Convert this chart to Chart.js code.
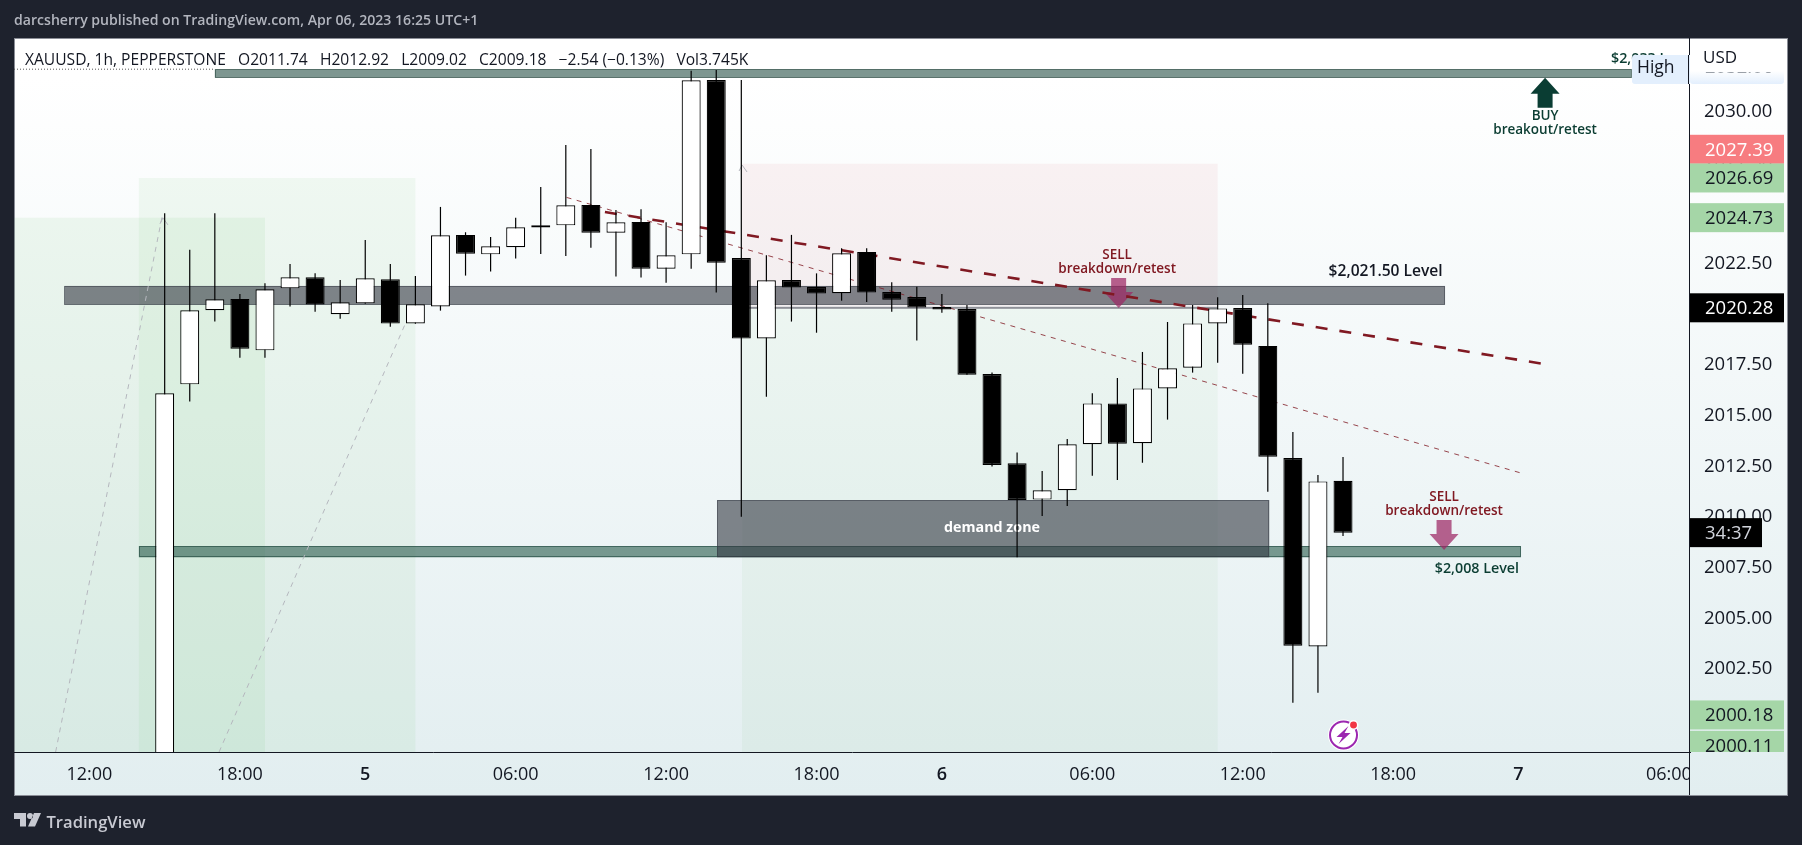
<!DOCTYPE html>
<html>
<head>
<meta charset="utf-8">
<title>XAUUSD 1h</title>
<script src="https://cdn.jsdelivr.net/npm/chart.js@4"></script>
<style>
    html, body { margin: 0; padding: 0; width: 1802px; height: 845px; overflow: hidden; background: #1e222d; }
    #card { position: absolute; left: 14px; top: 38px; width: 1774px; height: 758px; border: 1px solid #8a8d96; box-sizing: border-box;
        background: linear-gradient(180deg, #ffffff 0%, #ffffff 5%, #e2eef0 100%); }
    canvas { position: absolute; left: 0; top: 0; }
    .txt { position: absolute; white-space: pre; font-family: "Open Sans", sans-serif; }
    #head { left: 14px; top: 10px; font-size: 14.1px; font-weight: 600; color: #b2b5be; }
    #legend { left: 25px; top: 48px; font-size: 15.6px; color: #131722; }
    #logoText { left: 46.5px; top: 810px; font-size: 16.6px; font-weight: 600; color: #c8cad2; }
    #logo { position: absolute; left: 14px; top: 813px; }
</style>
</head>
<body>
<div id="card"></div>
<canvas id="chart" width="1802" height="845"></canvas>
<div class="txt" id="head">darcsherry published on TradingView.com, Apr 06, 2023 16:25 UTC+1</div>
<div class="txt" id="legend">XAUUSD, 1h, PEPPERSTONE   O2011.74   H2012.92   L2009.02   C2009.18   −2.54 (−0.13%)   Vol3.745K</div>
<svg id="logo" width="28" height="14" viewBox="0 0 28 14"><path d="M0 0h12v13.5H6V6H0z M13 3a3 3 0 1 0 6 0a3 3 0 1 0-6 0z M27 0L21 13.5h-7L20 0z" fill="#c8cad2"/></svg>
<div class="txt" id="logoText">TradingView</div>
<script>
// Свечи XAUUSD, 1h: индекс 0 это 12:00 первого дня
const firstCandle = 3;
const opens = [1995.00,2016.50,2020.16,2020.72,2018.18,2021.24,2021.79,2019.96,2020.50,2021.69,2019.51,2020.35,2023.88,2022.92,2023.27,2024.24,2024.35,2025.36,2023.99,2024.52,2022.21,2022.92,2031.53,2022.74,2018.77,2021.65,2021.31,2021.00,2023.04,2021.06,2020.81,2020.32,2020.22,2017.01,2012.60,2010.81,2011.27,2013.54,2015.56,2013.59,2016.30,2017.32,2019.51,2020.27,2018.40,2012.86,2003.56,2011.74];
const highs = [2024.95,2023.14,2024.95,2020.96,2021.49,2022.44,2021.98,2021.65,2023.63,2022.44,2021.85,2025.26,2024.01,2023.78,2024.72,2026.25,2028.32,2028.12,2025.11,2025.14,2024.50,2031.98,2032.02,2031.53,2022.87,2023.88,2021.98,2023.22,2023.22,2021.54,2021.32,2020.96,2020.42,2017.08,2013.14,2012.22,2013.80,2016.06,2016.81,2018.10,2019.58,2020.42,2020.80,2020.91,2020.50,2014.15,2012.02,2012.92];
const lows = [1994.00,2015.65,2019.60,2017.82,2017.82,2020.34,2020.09,2019.74,2020.48,2019.35,2019.49,2020.14,2021.87,2022.07,2022.71,2022.94,2022.84,2023.25,2021.82,2021.77,2021.52,2022.21,2021.03,2009.97,2015.89,2019.60,2019.05,2020.63,2020.57,2020.09,2018.66,2020.04,2016.97,2012.44,2007.96,2010.00,2010.49,2011.99,2011.78,2012.63,2014.76,2017.08,2017.57,2017.03,2011.20,2000.78,2001.27,2009.02];
const closes = [2016.06,2020.16,2020.70,2018.26,2021.19,2021.79,2020.44,2020.55,2021.74,2019.50,2020.45,2023.86,2022.95,2023.32,2024.26,2024.35,2025.34,2023.99,2024.50,2022.21,2022.87,2031.51,2022.51,2018.76,2021.64,2021.28,2020.98,2022.97,2021.03,2020.68,2020.29,2020.19,2016.98,2012.52,2010.79,2011.27,2013.54,2015.56,2013.57,2016.30,2017.29,2019.51,2020.25,2018.46,2012.93,2003.60,2011.71,2009.18];

// Оси
const xTickIndex = [0, 6, 11, 17, 23, 29, 34, 40, 46, 52, 57, 63];
const xTickLabels = ['12:00', '18:00', '5', '06:00', '12:00', '18:00', '6', '06:00', '12:00', '18:00', '7', '06:00'];
const yTickValues = [2000, 2002.5, 2005, 2007.5, 2010, 2012.5, 2015, 2017.5, 2020, 2022.5, 2025, 2027.5, 2030];

// Линии тренда: [индекс, цена]
const trendThick = [[20.56, 2025.01], [58.0, 2017.51]];
const trendThin = [[19.03, 2025.73], [57.05, 2012.14]];
const greyDashA = [[-1.35, 1998.35], [2.9, 2024.8]];
const greyDashB = [[5.17, 1998.35], [12.6, 2019.5]];
const dashTips = [[2.93, 2024.72], [26.03, 2027.33]];

// Зоны: x1, x2, цена1, цена2, цвет, рамка
const zones = [
    [-3, 7, 2024.73, 1998, 'rgba(76,175,80,0.08)', null],
    [1.97, 13, 2026.69, 1998, 'rgba(76,175,80,0.065)', null],
    [26.03, 45, 2020.28, 1998, 'rgba(76,175,80,0.05)', null],
    [26.03, 45, 2027.39, 2020.35, 'rgba(200,54,69,0.06)', null],
    [26.03, 45, 2020.33, 2020.23, '#8e9097', null],
    [5, 61.5, 2032.06, 2031.64, 'rgba(56,94,84,0.65)', 'rgba(40,70,62,0.6)'],
    [-1, 54.07, 2021.36, 2020.43, 'rgba(50,55,65,0.6)', 'rgba(50,55,65,0.5)'],
    [1.97, 57.1, 2008.52, 2007.96, 'rgba(40,90,75,0.6)', 'rgba(30,70,60,0.6)'],
    [25.03, 47.06, 2010.79, 2007.96, 'rgba(50,55,65,0.6)', 'rgba(50,55,65,0.5)']
];

// Подписи на графике: текст, индекс, цена, цвет, кегль, жирность
const notes = [
    ['BUY', 58.06, 2029.75, '#0b3d32', 13.5, 600],
    ['breakout/retest', 58.06, 2029.03, '#0b3d32', 13.5, 600],
    ['SELL', 40.99, 2022.89, '#801922', 13.5, 600],
    ['breakdown/retest', 40.99, 2022.20, '#801922', 13.5, 600],
    ['SELL', 54.03, 2010.94, '#801922', 13.5, 600],
    ['breakdown/retest', 54.03, 2010.25, '#801922', 13.5, 600],
    ['$2,021.50 Level', 51.7, 2022.05, '#131722', 15.6, 600],
    ['$2,008 Level', 55.34, 2007.38, '#0b3d32', 14.3, 600],
    ['demand zone', 36, 2009.41, '#ffffff', 14.3, 700],
    ['$2,033 Level', 62.37, 2032.58, '#0b3d32', 14.3, 600]
];

// Стрелки: индекс, начало, острие, цвет
const arrows = [
    [58.06, 2030.16, 2031.64, '#0a3d33'],
    [41.05, 2021.75, 2020.27, 'rgba(156,39,100,0.72)'],
    [54.03, 2009.80, 2008.32, 'rgba(156,39,100,0.72)']
];

// Метки на ценовой шкале: текст, цена, сдвиг, фон, цвет
const priceTags = [
    ['2027.39', 2027.39, -14.5, '#f77c80', '#ffffff'],
    ['2026.69', 2026.69, 0, '#a5d6a7', '#131722'],
    ['2024.73', 2024.73, 0, '#a5d6a7', '#131722'],
    ['2020.28', 2020.28, 0, '#000000', '#ffffff'],
    ['2000.18', 2000.18, 0, '#a5d6a7', '#131722'],
    ['2000.11', 2000.11, 29, '#a5d6a7', '#131722']
];

const fontName = '"Open Sans", sans-serif';
const candleIndex = opens.map((v, i) => firstCandle + i);

const bodies = candleIndex.map((x, i) => ({ x: x, y: [opens[i], closes[i]] }));
const wicks = candleIndex.map((x, i) => ({ x: x, y: [lows[i], highs[i]] }));
const toPoints = line => line.map(p => ({ x: p[0], y: p[1] }));

// Всё, что лежит под свечами
const drawingsPlugin = {
    id: 'drawings',
    beforeDatasetsDraw(chart) {
        const c = chart.ctx, xs = chart.scales.x, ys = chart.scales.y, area = chart.chartArea;
        // правый край шкалы времени обрезает подпись
        c.save();
        const g = c.createLinearGradient(0, 38, 0, 796);
        g.addColorStop(0.05, '#ffffff');
        g.addColorStop(1, '#e2eef0');
        c.fillStyle = g;
        c.fillRect(area.right, area.bottom + 1, 97, 42);
        c.fillStyle = '#131722';
        c.fillRect(area.right - 1, 38, 1, 757);

        c.beginPath();
        c.rect(area.left, area.top, area.width, area.height);
        c.clip();
        zones.forEach(z => {
            const x1 = xs.getPixelForValue(z[0]), x2 = xs.getPixelForValue(z[1]);
            const y1 = ys.getPixelForValue(z[2]), y2 = ys.getPixelForValue(z[3]);
            c.fillStyle = z[4];
            c.fillRect(x1, y1, x2 - x1, y2 - y1);
            if (z[5]) {
                c.strokeStyle = z[5];
                c.lineWidth = 1;
                c.strokeRect(Math.round(x1) + 0.5, Math.round(y1) + 0.5, Math.round(x2 - x1) - 1, Math.round(y2 - y1) - 1);
            }
        });

        // пунктир над первой зоной
        c.strokeStyle = '#555';
        c.lineWidth = 1;
        c.setLineDash([1, 2]);
        c.beginPath();
        c.moveTo(area.left, ys.getPixelForValue(2032.06));
        c.lineTo(xs.getPixelForValue(5), ys.getPixelForValue(2032.06));
        c.stroke();
        c.setLineDash([]);

        // острия серых линий
        c.strokeStyle = '#b4b6bd';
        dashTips.forEach(t => {
            const x = xs.getPixelForValue(t[0]), y = ys.getPixelForValue(t[1]);
            c.beginPath();
            c.moveTo(x - 3, y + 6);
            c.lineTo(x, y);
            c.lineTo(x + 5, y + 7);
            c.stroke();
        });

        c.textAlign = 'center';
        c.textBaseline = 'middle';
        notes.forEach(n => {
            c.font = n[5] + ' ' + n[4] + 'px ' + fontName;
            c.fillStyle = n[3];
            c.fillText(n[0], xs.getPixelForValue(n[1]), ys.getPixelForValue(n[2]));
        });

        arrows.forEach(a => {
            const x = xs.getPixelForValue(a[0]), y0 = ys.getPixelForValue(a[1]), y1 = ys.getPixelForValue(a[2]);
            const dir = y1 > y0 ? 1 : -1, neck = y1 - dir * 16;
            c.fillStyle = a[3];
            c.beginPath();
            c.moveTo(x - 7.5, y0); c.lineTo(x + 7.5, y0); c.lineTo(x + 7.5, neck); c.lineTo(x + 14.5, neck);
            c.lineTo(x, y1); c.lineTo(x - 14.5, neck); c.lineTo(x - 7.5, neck);
            c.closePath();
            c.fill();
        });
        c.restore();
    },
    afterDraw(chart) {
        const c = chart.ctx, xs = chart.scales.x, ys = chart.scales.y, area = chart.chartArea;
        c.save();
        c.textAlign = 'left';
        c.textBaseline = 'middle';

        // метка High и светлая полоса поверх шкалы
        c.fillStyle = '#e3effd';
        c.beginPath();
        c.roundRect(area.right - 58, 55, 58, 29, [3, 0, 0, 3]);
        c.fill();
        c.fillStyle = '#131722';
        c.font = '17.5px ' + fontName;
        c.fillText('High', area.right - 53, 68);
        c.fillRect(area.right - 2, 55, 1, 29);

        const fade = c.createLinearGradient(0, 55, 0, 84);
        fade.addColorStop(0.55, '#ffffff');
        fade.addColorStop(1, '#e3effd');
        c.fillStyle = fade;
        c.beginPath();
        c.roundRect(area.right, 55, 94, 29, [0, 0, 3, 3]);
        c.fill();

        // подпись цены верхней зоны почти скрыта
        c.save();
        c.beginPath();
        c.rect(area.right + 1, 72, 93, 6);
        c.clip();
        c.fillStyle = '#9aa0a8';
        c.font = '18.5px ' + fontName;
        c.fillText('2032.06', area.right + 15, 68);
        c.restore();

        c.fillStyle = '#131722';
        c.font = '17px ' + fontName;
        c.fillText('USD', area.right + 13, 58);

        // метки цен
        c.font = '18.5px ' + fontName;
        c.beginPath();
        c.rect(area.right, area.top, 98, area.height);
        c.clip();
        priceTags.forEach(t => {
            const y = ys.getPixelForValue(t[1]) + t[2];
            c.fillStyle = t[3];
            c.fillRect(area.right, y - 14.5, 94, 29);
            c.fillStyle = t[4];
            c.fillText(t[0], area.right + 15, y + 1);
        });

        // счётчик до закрытия свечи
        const yClose = ys.getPixelForValue(closes[closes.length - 1]);
        c.fillStyle = '#000000';
        c.fillRect(area.right, yClose - 14.5, 72, 29);
        c.fillStyle = '#d1d4dc';
        c.fillText('34:37', area.right + 15, yClose + 1);
        c.restore();

        // значок события
        const ex = xs.getPixelForValue(50) + 0.5, ey = area.bottom - 17;
        c.save();
        c.fillStyle = '#ffffff';
        c.beginPath();
        c.arc(ex, ey, 15.5, 0, Math.PI * 2);
        c.fill();
        c.strokeStyle = '#9c27b0';
        c.lineWidth = 2;
        c.beginPath();
        c.arc(ex, ey, 13.5, 0, Math.PI * 2);
        c.stroke();
        c.fillStyle = '#9c27b0';
        c.beginPath();
        c.moveTo(ex + 5, ey - 9); c.lineTo(ex - 7, ey + 2); c.lineTo(ex - 1, ey + 2);
        c.lineTo(ex - 5, ey + 9); c.lineTo(ex + 7, ey - 2); c.lineTo(ex + 1, ey - 2);
        c.closePath();
        c.fill();
        c.fillStyle = '#f23645';
        c.strokeStyle = '#ffffff';
        c.lineWidth = 1.5;
        c.beginPath();
        c.arc(ex + 10, ey - 10, 4.2, 0, Math.PI * 2);
        c.fill();
        c.stroke();
        c.restore();
    }
};

new Chart(document.getElementById('chart').getContext('2d'), {
    type: 'bar',
    data: {
        datasets: [
            { data: bodies, order: 1, grouped: false, barThickness: 19, inflateAmount: 0,
              backgroundColor: opens.map((o, i) => closes[i] >= o ? '#ffffff' : '#000000'),
              borderColor: '#000000', borderWidth: 1.2, borderSkipped: false },
            { data: wicks, order: 2, grouped: false, barThickness: 1.2, inflateAmount: 0,
              backgroundColor: '#000000', borderWidth: 0 },
            { type: 'line', data: toPoints(trendThick), order: 3, borderColor: '#801922', borderWidth: 2.6,
              borderDash: [12, 12], pointRadius: 0 },
            { type: 'line', data: toPoints(trendThin), order: 4, borderColor: 'rgba(128,25,34,0.8)', borderWidth: 1,
              borderDash: [5, 5.5], pointRadius: 0 },
            { type: 'line', data: toPoints(greyDashA), order: 5, borderColor: '#b4b6bd', borderWidth: 1,
              borderDash: [5, 5], pointRadius: 0 },
            { type: 'line', data: toPoints(greyDashB), order: 5, borderColor: '#b4b6bd', borderWidth: 1,
              borderDash: [5, 5], pointRadius: 0 }
        ]
    },
    options: {
        responsive: false,
        animation: false,
        events: [],
        devicePixelRatio: 1,
        layout: { padding: { left: 14, top: 38, right: 14, bottom: 49 } },
        plugins: { legend: { display: false }, tooltip: { enabled: false } },
        scales: {
            x: {
                type: 'linear',
                min: -3.01,
                max: 63.84,
                offset: false,
                grid: { display: false },
                border: { color: '#131722', width: 1 },
                afterFit: s => { s.height = 44; },
                afterBuildTicks: s => { s.ticks = xTickIndex.map(v => ({ value: v })); },
                ticks: {
                    autoSkip: false,
                    maxRotation: 0,
                    padding: 4,
                    color: '#131722',
                    font: ctx => ({ family: fontName, size: 18, weight: ctx.tick && xTickIndex.includes(ctx.tick.value) && xTickLabels[xTickIndex.indexOf(ctx.tick.value)].length === 1 ? '600' : '400' }),
                    callback: v => xTickLabels[xTickIndex.indexOf(v)]
                }
            },
            y: {
                position: 'right',
                min: 1998.35,
                max: 2033.6,
                grid: { display: false },
                border: { display: false },
                afterFit: s => { s.width = 98; },
                afterBuildTicks: s => { s.ticks = yTickValues.map(v => ({ value: v })); },
                ticks: {
                    z: 1,
                    padding: 6,
                    labelOffset: 1,
                    color: '#131722',
                    font: { family: fontName, size: 18.5 },
                    callback: v => v.toFixed(2)
                }
            }
        }
    },
    plugins: [drawingsPlugin]
});
</script>
</body>
</html>
